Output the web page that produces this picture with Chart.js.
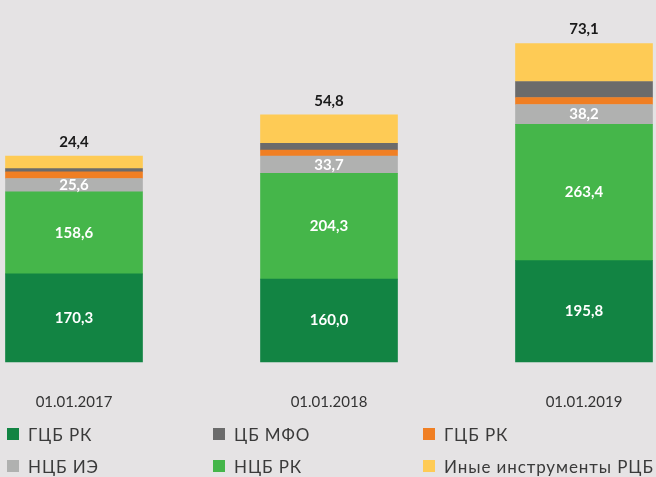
<!DOCTYPE html>
<html>
<head>
<meta charset="utf-8">
<script src="https://cdn.jsdelivr.net/npm/chart.js@4.4.1/dist/chart.umd.min.js"></script>
<style>
  body { margin: 0; background: #e5e3e4; width: 656px; height: 477px; overflow: hidden; font-family: Lato, sans-serif; }
  #wrap { position: absolute; left: 0; top: 0; width: 656px; height: 452px; }
  #legend { position: absolute; left: 0; top: 0; width: 656px; height: 477px; pointer-events: none; }
  .item { position: absolute; display: flex; align-items: center; font-size: 17px; letter-spacing: 0.9px; color: #3a3a3a; height: 20px; white-space: nowrap; }
  .box { width: 12px; height: 12px; margin-right: 9px; flex: none; }
</style>
</head>
<body>
<div id="wrap"><canvas id="chart" width="656" height="452"></canvas></div>
<div id="legend"></div>
<script>
const categories = ['01.01.2017', '01.01.2018', '01.01.2019'];
const gcbRk = [170.3, 160.0, 195.8];
const ncbRk = [158.6, 204.3, 263.4];
const ncbIe = [25.6, 33.7, 38.2];
const gcbRkOther = [13, 11.5, 13.5];
const cbMfo = [6, 13, 31];
const otherRcb = [24.4, 54.8, 73.1];

const seriesNames = ['ГЦБ РК', 'НЦБ РК', 'НЦБ ИЭ', 'ГЦБ РК', 'ЦБ МФО', 'Иные инструменты РЦБ'];
const seriesColors = ['#128443', '#45b64a', '#b0b1b0', '#f07f23', '#6b6b6b', '#fecb55'];
const labelModes = ['inside', 'inside', 'inside', 'none', 'none', 'top'];
// legend goes in rows of 3, in this order
const legendOrder = [0, 4, 3, 2, 1, 5];

function fmt(v) {
    return v.toFixed(1).replace('.', ',');
}

const valueLabels = {
    id: 'valueLabels',
    afterDatasetsDraw(chart) {
        const ctx = chart.ctx;
        ctx.save();
        ctx.textAlign = 'center';
        ctx.textBaseline = 'middle';
        ctx.font = 'bold 15px Lato, sans-serif';
        chart.data.datasets.forEach(function (ds, di) {
            const mode = labelModes[di];
            if (mode === 'none') return;
            const meta = chart.getDatasetMeta(di);
            meta.data.forEach(function (bar, i) {
                const text = fmt(ds.data[i]);
                if (mode === 'inside') {
                    ctx.fillStyle = '#ffffff';
                    ctx.fillText(text, bar.x, (bar.y + bar.base) / 2);
                } else {
                    ctx.fillStyle = '#1a1a1a';
                    ctx.fillText(text, bar.x, bar.y - 14);
                }
            });
        });
        ctx.restore();
    }
};

const allData = [gcbRk, ncbRk, ncbIe, gcbRkOther, cbMfo, otherRcb];

new Chart(document.getElementById('chart').getContext('2d'), {
    type: 'bar',
    data: {
        labels: categories,
        datasets: allData.map(function (d, i) {
            return {
                label: seriesNames[i],
                data: d,
                backgroundColor: seriesColors[i],
                borderWidth: 0,
                barThickness: 137,
                clip: false
            };
        })
    },
    options: {
        responsive: false,
        animation: false,
        layout: { padding: { left: 74, right: 72, top: 10, bottom: 10 } },
        plugins: {
            legend: { display: false },
            tooltip: { enabled: false }
        },
        scales: {
            x: {
                stacked: true,
                offset: false,
                grid: { display: false, drawTicks: false },
                border: { display: false },
                ticks: {
                    color: '#333333',
                    padding: 31,
                    font: { family: 'Lato', size: 15 }
                }
            },
            y: {
                stacked: true,
                display: false,
                min: 0,
                max: 680
            }
        }
    },
    plugins: [valueLabels]
});

// legend
const legendDiv = document.getElementById('legend');
const colX = [7, 213, 423];
const rowY = [424, 456];
legendOrder.forEach(function (di, k) {
    const item = document.createElement('div');
    item.className = 'item';
    item.style.left = colX[k % 3] + 'px';
    item.style.top = rowY[Math.floor(k / 3)] + 'px';
    const box = document.createElement('span');
    box.className = 'box';
    box.style.background = seriesColors[di];
    item.appendChild(box);
    item.appendChild(document.createTextNode(seriesNames[di]));
    legendDiv.appendChild(item);
});
</script>
</body>
</html>
